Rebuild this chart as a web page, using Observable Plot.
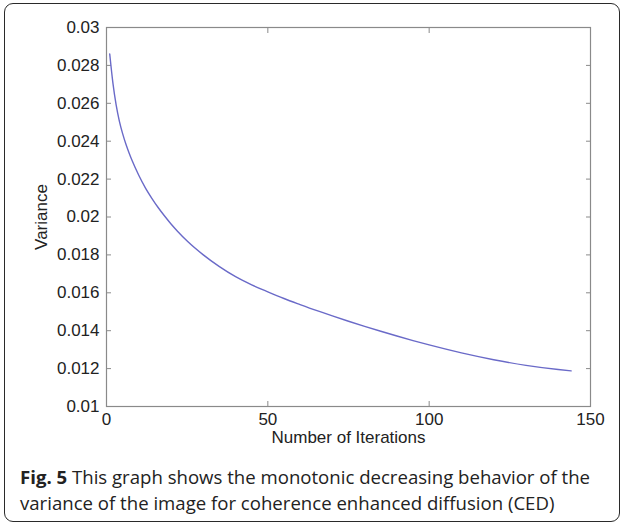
<!DOCTYPE html>
<html>
<head>
<meta charset="utf-8">
<script src="https://cdn.jsdelivr.net/npm/d3@7"></script>
<script src="https://cdn.jsdelivr.net/npm/@observablehq/plot@0.6"></script>
<style>
  html, body { margin: 0; padding: 0; background: #fff; }
  #wrap { position: relative; width: 623px; height: 526px; overflow: hidden; }
  #box { position: absolute; left: 4px; top: 3px; width: 614px; height: 517px;
         border: 1.5px solid #2a2a2a; border-radius: 9px; }
  #chart { position: absolute; left: 0; top: 0; }
  #caption { position: absolute; left: 20px; top: 464px; width: 590px;
             font-family: "Open Sans", "Noto Sans", sans-serif; font-size: 18.6px;
             line-height: 26px; color: #222; }
  #caption b { font-weight: 700; }
</style>
</head>
<body>
<div id="wrap">
  <div id="box"></div>
  <div id="chart"></div>
  <div id="caption"><b>Fig. 5</b> This graph shows the monotonic decreasing behavior of the variance of the image for coherence enhanced diffusion (CED)</div>
</div>
<script>
// Data
const iterations = [1, 2, 3, 4, 5, 6, 7, 8, 10, 12, 14, 16, 18, 20, 22, 25, 30, 35, 40, 45, 50, 55, 60, 65, 70, 75, 80, 85, 90, 95, 100, 110, 120, 130, 140, 144];
const variance   = [0.02860, 0.02705, 0.02590, 0.02505, 0.02440, 0.02385, 0.02338, 0.02295, 0.02220, 0.02155, 0.02100, 0.02050, 0.02005, 0.01963, 0.01925, 0.01873, 0.01800, 0.01738, 0.01685, 0.01642, 0.01605, 0.01570, 0.01538, 0.01507, 0.01478, 0.01450, 0.01423, 0.01397, 0.01372, 0.01348, 0.01325, 0.01283, 0.01247, 0.01217, 0.01195, 0.01188];
const xTicks = [0, 50, 100, 150];
const yTicks = [0.01, 0.012, 0.014, 0.016, 0.018, 0.02, 0.022, 0.024, 0.026, 0.028, 0.03];
const xLabel = "Number of Iterations";
const yLabel = "Variance";

const data = iterations.map((it, i) => ({it, v: variance[i]}));
const fmtY = d => String(+d.toFixed(3));

const tickColor = "#8a8a8a";
const textColor = "#222";

const plot = Plot.plot({
  width: 623,
  height: 450,
  marginLeft: 106,
  marginRight: 33,
  marginTop: 27,
  marginBottom: 44,
  style: { fontFamily: "'Liberation Sans', Arial, Helvetica, sans-serif", fontSize: "17px", color: textColor, background: "transparent" },
  x: { domain: [0, 150] },
  y: { domain: [0.01, 0.03] },
  marks: [
    Plot.frame({ stroke: tickColor, strokeWidth: 1.2 }),
    // inward ticks
    Plot.axisY(yTicks, { anchor: "left", text: null, label: null, tickSize: 5, dx: 5, stroke: tickColor }),
    Plot.axisY(yTicks, { anchor: "right", text: null, label: null, tickSize: 5, dx: -5, stroke: tickColor }),
    Plot.axisX(xTicks, { anchor: "bottom", text: null, label: null, tickSize: 5, dy: -5, stroke: tickColor }),
    Plot.axisX(xTicks, { anchor: "top", text: null, label: null, tickSize: 5, dy: 5, stroke: tickColor }),
    // tick labels
    Plot.axisY(yTicks, { anchor: "left", tickSize: 0, tickPadding: 7, tickFormat: fmtY, label: null, fill: textColor }),
    Plot.axisX(xTicks, { anchor: "bottom", tickSize: 0, tickPadding: 6, label: null, fill: textColor }),
    // axis titles
    Plot.text([yLabel], { text: d => d, frameAnchor: "left", rotate: -90, dx: -65, textAnchor: "middle", lineAnchor: "middle", fill: textColor, fontSize: 17 }),
    Plot.text([xLabel], { text: d => d, frameAnchor: "bottom", dy: 31, textAnchor: "middle", lineAnchor: "middle", fill: textColor, fontSize: 17 }),
    // the curve
    Plot.line(data, { x: "it", y: "v", stroke: "#6a6ac8", strokeWidth: 1.4, curve: "monotone-x" })
  ]
});
document.getElementById("chart").appendChild(plot);
</script>
</body>
</html>
